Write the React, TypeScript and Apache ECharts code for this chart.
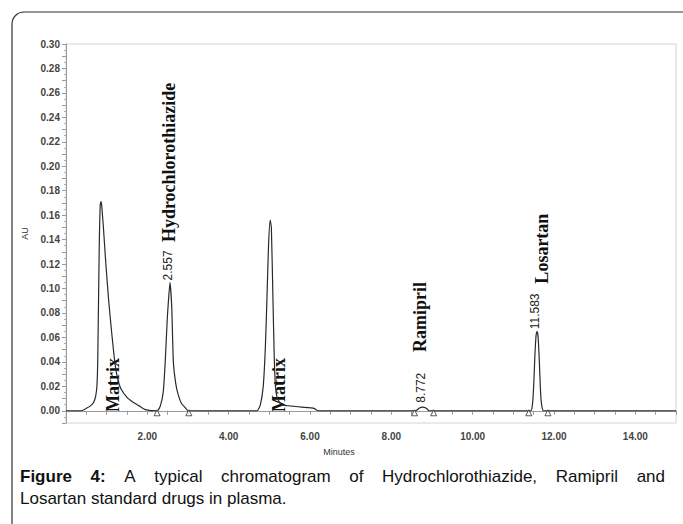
import { useEffect, useRef } from "react";
import * as echarts from "echarts";

const WIDTH = 683;
const HEIGHT = 524;

// Chromatogram trace: retention time (min) and absorbance (AU)
const traceTimes = [
  0, 0.38, 0.5, 0.6, 0.68, 0.73, 0.76, 0.78, 0.8, 0.82, 0.84, 0.86, 0.88, 0.92, 0.98, 1.05, 1.12, 1.2, 1.27, 1.35, 1.5, 1.65, 1.8, 1.95,
  2.25, 2.32, 2.39, 2.44, 2.49, 2.557, 2.6, 2.64, 2.7, 2.76, 2.84, 2.92, 3.0,
  4.7, 4.78, 4.85, 4.9, 4.94, 4.98, 5.02, 5.05, 5.09, 5.12, 5.15, 5.2, 5.3, 5.5, 5.8, 6.1, 6.2,
  8.6, 8.68, 8.772, 8.86, 8.93,
  11.43, 11.47, 11.5, 11.53, 11.56, 11.583, 11.61, 11.64, 11.67, 11.7, 11.74,
  15,
];
const traceAU = [
  0, 0, 0.002, 0.004, 0.007, 0.012, 0.02, 0.04, 0.09, 0.14, 0.168, 0.171, 0.167, 0.15, 0.12, 0.09, 0.065, 0.04, 0.026, 0.018, 0.011, 0.007, 0.004, 0.001,
  0, 0.004, 0.015, 0.04, 0.075, 0.105, 0.085, 0.04, 0.022, 0.013, 0.006, 0.003, 0,
  0, 0.005, 0.02, 0.05, 0.09, 0.135, 0.156, 0.15, 0.09, 0.045, 0.02, 0.01, 0.005, 0.004, 0.003, 0.002, 0,
  0, 0.002, 0.003, 0.002, 0,
  0, 0.005, 0.02, 0.045, 0.062, 0.065, 0.06, 0.04, 0.015, 0.004, 0,
  0,
];

// Integrated peaks (retention time labels)
const peakTimes = [2.557, 8.772, 11.583];
const peakAU = [0.105, 0.003, 0.065];

// Integration start / end marks on the baseline
const integrationMarks = [2.24, 3.02, 8.57, 9.04, 11.38, 11.85];

// Compound names, anchored at the foot of each rotated label
const compoundNames = ["Matrix", "Hydrochlorothiazide", "Matrix", "Ramipril", "Losartan"];
const compoundTimes = [1.16, 2.53, 5.24, 8.7, 11.7];
const compoundAU = [-0.001, 0.138, -0.001, 0.048, 0.104];

const xAxisTitle = "Minutes";
const yAxisTitle = "AU";

const captionLine1: [string, string][] = [
  ["Figure", "bold"],
  ["4:", "bold"],
  ["A", "normal"],
  ["typical", "normal"],
  ["chromatogram", "normal"],
  ["of", "normal"],
  ["Hydrochlorothiazide,", "normal"],
  ["Ramipril", "normal"],
  ["and", "normal"],
];
const captionLine2 = "Losartan standard drugs in plasma.";

const SANS = '"Liberation Sans", Arial, sans-serif';
const SERIF = '"Liberation Serif", "Times New Roman", serif';

function textWidth(text: string, weight: string, size: number, family: string) {
  const ctx = document.createElement("canvas").getContext("2d")!;
  ctx.font = `${weight} ${size}px ${family}`;
  return ctx.measureText(text).width;
}

export default function App() {
  const ref = useRef<HTMLDivElement>(null);

  useEffect(() => {
    if (!ref.current) return;
    const chart = echarts.init(ref.current, undefined, { renderer: "svg" });

    const trace = traceTimes.map((t, i) => [t, traceAU[i]]);
    const marks = integrationMarks.map((t) => [t, 0]);

    chart.setOption({
      animation: false,
      backgroundColor: "#fff",
      grid: {
        left: 66,
        right: 7,
        top: 44,
        bottom: 101,
        show: true,
        borderColor: "#d4d4d4",
        borderWidth: 1,
      },
      xAxis: {
        type: "value",
        min: 0,
        max: 15,
        interval: 0.5,
        axisLine: { lineStyle: { color: "#9a9a9a", width: 1 } },
        axisTick: { length: 4, lineStyle: { color: "#9a9a9a" } },
        splitLine: { show: false },
        axisLabel: {
          margin: 8,
          fontSize: 10,
          fontWeight: "bold",
          fontFamily: SANS,
          color: "#444",
          formatter: (v: number) => {
            const k = Math.round(v * 2);
            return k > 0 && k % 4 === 0 ? (k / 2).toFixed(2) : "";
          },
        },
      },
      yAxis: {
        type: "value",
        min: -0.01,
        max: 0.3,
        interval: 0.01,
        name: yAxisTitle,
        nameLocation: "middle",
        nameGap: 31,
        nameRotate: 90,
        nameTextStyle: { fontSize: 9, fontFamily: SANS, color: "#333" },
        axisLine: { show: true, lineStyle: { color: "#9a9a9a", width: 1 } },
        axisTick: { show: true, length: 4, lineStyle: { color: "#9a9a9a" } },
        minorTick: { show: true, splitNumber: 2, length: 2, lineStyle: { color: "#b0b0b0" } },
        splitLine: { show: false },
        axisLabel: {
          margin: 6,
          fontSize: 10,
          fontWeight: "bold",
          fontFamily: SANS,
          color: "#444",
          formatter: (v: number) => {
            const k = Math.round(v * 100);
            return k >= 0 && k % 2 === 0 ? (k / 100).toFixed(2) : "";
          },
        },
      },
      series: [
        {
          type: "line",
          data: trace,
          showSymbol: false,
          smooth: 0.15,
          lineStyle: { color: "#2a2a2a", width: 1.2 },
          z: 3,
        },
        {
          type: "scatter",
          data: marks,
          symbol: "triangle",
          symbolSize: 6,
          symbolOffset: [0, 2],
          itemStyle: { color: "#fff", borderColor: "#333", borderWidth: 1 },
          z: 4,
        },
      ],
    });

    const px = (t: number, v: number) => chart.convertToPixel({ gridIndex: 0 }, [t, v]) as number[];
    const graphics: any[] = [];

    // Figure frame
    graphics.push({
      type: "rect",
      z: -10,
      shape: { x: 12, y: 12, width: 720, height: 560, r: 12 },
      style: { fill: "none", stroke: "#333", lineWidth: 1.2 },
    });

    // X axis title
    graphics.push({
      type: "text",
      x: 339,
      y: 452,
      style: { text: xAxisTitle, fontSize: 9, fontFamily: SANS, fill: "#333", align: "center", verticalAlign: "middle" },
    });

    // Retention time labels above each integrated peak
    const [, baseY] = px(0, 0);
    peakTimes.forEach((t, i) => {
      const [x, y] = px(t, peakAU[i]);
      graphics.push({
        type: "text",
        x: x - 2,
        y: Math.min(y - 2, baseY - 8),
        rotation: Math.PI / 2,
        style: {
          text: t.toFixed(3),
          fontSize: 12,
          fontFamily: SANS,
          fill: "#222",
          align: "left",
          verticalAlign: "middle",
        },
      });
    });

    // Compound names
    compoundNames.forEach((name, i) => {
      const [x, y] = px(compoundTimes[i], compoundAU[i]);
      graphics.push({
        type: "text",
        x,
        y,
        rotation: Math.PI / 2,
        style: {
          text: name,
          fontSize: 18,
          fontWeight: "bold",
          fontFamily: SERIF,
          fill: "#111",
          align: "left",
          verticalAlign: "middle",
        },
      });
    });

    // Caption, first line justified between the margins
    const capSize = 17;
    const left = 20;
    const right = 665;
    const widths = captionLine1.map(([w, wt]) => textWidth(w, wt, capSize, SANS));
    const total = widths.reduce((a, b) => a + b, 0);
    const gap = (right - left - total) / (captionLine1.length - 1);
    let cx = left;
    captionLine1.forEach(([w, wt], i) => {
      graphics.push({
        type: "text",
        x: cx,
        y: 476,
        style: { text: w, fontSize: capSize, fontWeight: wt, fontFamily: SANS, fill: "#111", align: "left", verticalAlign: "middle" },
      });
      cx += widths[i] + gap;
    });
    graphics.push({
      type: "text",
      x: left,
      y: 498,
      style: { text: captionLine2, fontSize: capSize, fontFamily: SANS, fill: "#111", align: "left", verticalAlign: "middle" },
    });

    chart.setOption({ graphic: graphics });

    return () => chart.dispose();
  }, []);

  return (
    <div style={{ position: "fixed", left: 0, top: 0, width: WIDTH, height: HEIGHT, background: "#fff" }}>
      <div ref={ref} style={{ width: WIDTH, height: HEIGHT }} />
    </div>
  );
}
